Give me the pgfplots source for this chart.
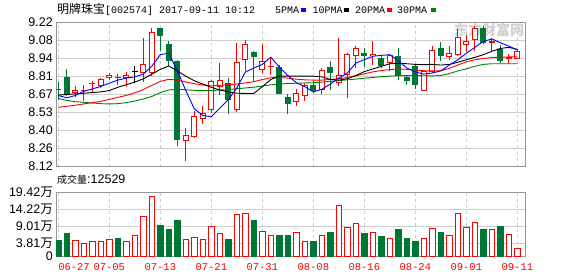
\documentclass[border=0pt]{standalone}
\usepackage{pgfplots}
\pgfplotsset{compat=1.18}
\usepackage{pgfplotstable}
\usepackage{fontspec}
\setmainfont{Liberation Sans}
\newfontfamily\cjk{Noto Sans CJK SC}
\newfontfamily\mono{Liberation Mono}
\definecolor{cred}{RGB}{255,0,0}
\definecolor{cgreen}{RGB}{0,118,52}
\definecolor{magreen}{RGB}{0,128,0}
\definecolor{gridc}{RGB}{206,206,206}
\definecolor{framec}{RGB}{150,150,150}

% red (up) candles
\pgfplotstableread{
i O H L C
2 8.681 8.732 8.651 8.702
3 8.695 8.742 8.620 8.705
4 8.748 8.773 8.680 8.760
5 8.737 8.793 8.718 8.786
6 8.797 8.832 8.780 8.817
8 8.795 8.845 8.725 8.821
10 8.833 9.100 8.769 8.903
11 8.834 9.178 8.809 9.146
15 8.312 8.414 8.160 8.358
16 8.343 8.541 8.340 8.503
17 8.483 8.580 8.445 8.529
18 8.554 8.783 8.529 8.770
19 8.725 8.910 8.669 8.783
21 8.554 9.063 8.536 8.916
22 8.936 9.089 8.847 9.056
24 8.860 9.058 8.834 8.928
25 8.882 8.949 8.821 8.886
28 8.610 8.715 8.580 8.681
29 8.656 8.758 8.623 8.740
31 8.707 8.872 8.674 8.860
33 8.758 9.102 8.732 8.821
34 8.821 8.987 8.643 8.982
35 8.962 9.038 8.872 9.025
37 8.962 9.076 8.898 8.979
39 8.911 8.979 8.847 8.974
43 8.699 8.860 8.694 8.847
44 8.839 9.038 8.834 9.007
46 8.954 9.038 8.936 8.987
47 8.969 9.173 8.962 9.107
48 9.051 9.127 8.995 9.076
49 9.089 9.190 9.000 9.178
51 9.063 9.102 9.000 9.076
53 8.941 8.979 8.903 8.954
54 8.944 9.020 8.944 9.000
}\upc

% green (down) candles
\pgfplotstableread{
i O H L C
0 8.710 8.765 8.630 8.703
1 8.800 8.867 8.662 8.674
7 8.801 8.825 8.745 8.795
12 9.178 9.180 9.000 9.114
13 9.058 9.076 8.885 8.923
14 8.928 8.930 8.274 8.325
20 8.758 8.796 8.524 8.630
23 8.995 9.000 8.770 8.954
26 8.877 8.898 8.674 8.674
27 8.651 8.674 8.524 8.597
30 8.740 8.770 8.681 8.699
32 8.880 8.923 8.707 8.834
36 8.987 9.025 8.877 8.967
38 8.949 8.962 8.872 8.885
40 8.962 9.025 8.783 8.809
41 8.801 8.821 8.745 8.770
42 8.885 8.898 8.715 8.745
45 9.025 9.071 8.923 8.962
50 9.178 9.190 9.056 9.063
52 9.020 9.051 8.910 8.928
}\dnc

% doji (black)
\pgfplotstableread{
i O H L C
9 8.842 8.884 8.757 8.842
}\djc

% moving averages
\pgfplotstableread{
i m5 m10 m20 m30
0 8.662 8.666 8.572 8.640
1 8.645 8.670 8.580 8.625
2 8.662 8.675 8.588 8.615
3 8.695 8.680 8.598 8.610
4 8.712 8.685 8.608 8.605
5 8.732 8.690 8.618 8.600
6 8.756 8.700 8.632 8.598
7 8.780 8.725 8.648 8.600
8 8.795 8.745 8.663 8.608
9 8.805 8.765 8.683 8.620
10 8.825 8.790 8.708 8.635
11 8.885 8.825 8.740 8.655
12 8.975 8.862 8.770 8.685
13 8.985 8.888 8.786 8.705
14 8.850 8.850 8.780 8.710
15 8.700 8.810 8.766 8.706
16 8.560 8.775 8.752 8.702
17 8.510 8.750 8.742 8.700
18 8.500 8.725 8.736 8.700
19 8.565 8.705 8.740 8.704
20 8.630 8.690 8.745 8.708
21 8.720 8.680 8.750 8.714
22 8.842 8.678 8.758 8.720
23 8.872 8.678 8.768 8.726
24 8.900 8.730 8.784 8.734
25 8.955 8.785 8.798 8.744
26 8.880 8.810 8.800 8.750
27 8.815 8.810 8.795 8.754
28 8.760 8.810 8.787 8.756
29 8.730 8.810 8.782 8.758
30 8.690 8.810 8.780 8.760
31 8.710 8.805 8.780 8.765
32 8.750 8.785 8.785 8.770
33 8.796 8.780 8.790 8.776
34 8.834 8.790 8.800 8.782
35 8.910 8.815 8.812 8.788
36 8.936 8.845 8.828 8.794
37 8.962 8.865 8.843 8.800
38 8.969 8.885 8.853 8.806
39 8.974 8.905 8.860 8.810
40 8.928 8.908 8.865 8.814
41 8.872 8.905 8.862 8.815
42 8.842 8.900 8.857 8.815
43 8.826 8.898 8.852 8.813
44 8.834 8.900 8.850 8.812
45 8.850 8.895 8.852 8.815
46 8.895 8.900 8.870 8.830
47 8.935 8.916 8.895 8.850
48 8.985 8.936 8.920 8.866
49 9.030 8.954 8.935 8.885
50 9.075 8.974 8.945 8.900
51 9.095 9.000 8.952 8.905
52 9.065 9.022 8.955 8.905
53 9.040 9.030 8.957 8.905
54 9.010 9.015 8.958 8.905
}\mas

% volume (10k shares), up days
\pgfplotstableread{
i v
2 4.7
3 3.9
4 4.5
5 4.5
6 5.1
8 4.5
9 6.3
10 12.2
11 18.4
15 5.1
16 5.7
17 5.1
18 9.1
19 6.95
21 12.8
22 13.1
24 7.6
25 6.3
28 7.3
29 4.3
31 6.3
33 15.6
34 8.8
35 10.1
37 7.3
39 5.4
43 5.4
44 8.5
46 6.3
47 13.1
48 8.8
49 10.3
51 8.2
53 6.6
54 2.35
}\volup

% volume, down days
\pgfplotstableread{
i v
0 4.9
1 6.75
7 5.4
12 9.5
13 8.0
14 11.0
20 5.2
23 11.0
26 6.4
27 6.4
30 4.6
32 7.2
36 6.8
38 6.1
40 8.0
41 5.5
42 4.4
45 7.2
50 8.0
52 9.2
}\voldn

\pgfplotsset{
  kpanel/.style={
    scale only axis, width=469pt,
    xmin=-0.27, xmax=54.9,
    axis line style={framec, line width=1pt},
    tick style={draw=none},
    xtick={0,6,...,54},
    xmajorgrids, ymajorgrids,
    x grid style={gridc, line width=0.8pt, dash pattern=on 3pt off 3pt},
    y grid style={gridc, line width=0.8pt},
    yticklabel style={font=\fontsize{12.5}{12.5}\selectfont, anchor=east, inner sep=0pt, xshift=-3pt},
  },
  wick/.style={draw=none, mark=none, forget plot,
    error bars/.cd, y dir=plus, y explicit, error mark=none,
    error bar style={draw=#1, line width=1pt}},
  body/.style={draw=none, mark=none, forget plot,
    error bars/.cd, y dir=plus, y explicit, error mark=none,
    error bar style={draw=#1, line width=6pt}},
  inner/.style={draw=none, mark=none, forget plot,
    error bars/.cd, y dir=plus, y explicit, error mark=none,
    error bar style={draw=white, line width=4pt}},
}

\begin{document}
\begin{tikzpicture}
\path[use as bounding box] (0,0) rectangle (578pt,276pt);

% watermark
\node[text=black!18, font=\cjk\bfseries\fontsize{14}{14}\selectfont, inner sep=0pt] at (489pt,246pt) {东方财富网};

% title and legend
\node[anchor=base west, inner sep=0pt] at (57pt,262pt)
  {{\cjk\fontsize{12}{12}\selectfont 明牌珠宝}{\mono\fontsize{10}{10}\selectfont[002574] 2017-09-11 10:12}};
\node[anchor=base west, inner sep=0pt] at (275pt,262pt)
  {\mono\fontsize{10}{10}\selectfont 5PMA\hspace{1.7pt}\textcolor{blue}{\rule[2.3pt]{5pt}{3.4pt}}\hspace{6.6pt}10PMA\hspace{1.7pt}\textcolor{black}{\rule[2.3pt]{5pt}{3.4pt}}\hspace{6pt}20PMA\hspace{2pt}\textcolor{cred}{\rule[2.3pt]{5pt}{3.4pt}}\hspace{5pt}30PMA\hspace{3.7pt}\textcolor{magreen}{\rule[2.3pt]{5pt}{3.4pt}}};
\node[anchor=base west, inner sep=0pt] at (57pt,92.5pt)
  {{\cjk\fontsize{10}{10}\selectfont 成交量}{\fontsize{12.5}{12.5}\selectfont :12529}};

% price panel
\begin{axis}[kpanel,
  at={(56pt,109.5pt)}, anchor=south west, height=144pt,
  ymin=8.12, ymax=9.22,
  xticklabels={},
  ytick={8.12,8.2575,8.395,8.5325,8.67,8.8075,8.945,9.0825,9.22},
  yticklabels={8.12,8.26,8.40,8.53,8.67,8.81,8.94,9.08,9.22},
  extra y ticks={8.67}, extra y tick labels={},
  extra y tick style={grid style={framec, line width=1pt, solid}},
]
% wicks
\addplot[wick=cred] table[x=i, y=L, y error plus expr={\thisrow{H}-\thisrow{L}}] {\upc};
\addplot[wick=cgreen] table[x=i, y=L, y error plus expr={\thisrow{H}-\thisrow{L}}] {\dnc};
\addplot[wick=black] table[x=i, y=L, y error plus expr={\thisrow{H}-\thisrow{L}}] {\djc};
% bodies
\addplot[body=cred] table[x=i, y expr={min(\thisrow{O},\thisrow{C})}, y error plus expr={max(abs(\thisrow{C}-\thisrow{O}),0.008)}] {\upc};
\addplot[inner] table[x=i, y expr={min(\thisrow{O},\thisrow{C})+0.0076}, y error plus expr={max(abs(\thisrow{C}-\thisrow{O})-0.0153,0)}] {\upc};
\addplot[body=cgreen] table[x=i, y expr={min(\thisrow{O},\thisrow{C})}, y error plus expr={max(abs(\thisrow{C}-\thisrow{O}),0.008)}] {\dnc};
\addplot[body=black] table[x=i, y expr={min(\thisrow{O},\thisrow{C})}, y error plus expr={max(abs(\thisrow{C}-\thisrow{O}),0.008)}] {\djc};
% moving averages
\addplot[magreen, line width=0.9pt, mark=none] table[x=i, y=m30] {\mas};
\addplot[cred, line width=0.9pt, mark=none] table[x=i, y=m20] {\mas};
\addplot[black, line width=0.9pt, mark=none] table[x=i, y=m10] {\mas};
\addplot[blue, line width=0.9pt, mark=none] table[x=i, y=m5] {\mas};
\end{axis}

% volume panel
\begin{axis}[kpanel,
  at={(56pt,20pt)}, anchor=south west, height=63.3pt,
  ymin=0, ymax=19.42,
  ytick={0,3.81,9.01,14.22,19.42},
  yticklabels={0,3.81{\cjk 万},9.01{\cjk 万},14.22{\cjk 万},19.42{\cjk 万}},
  xticklabels={{\makebox[0pt][l]{06-27}},07-05,07-13,07-21,07-31,08-08,08-16,08-24,09-01,09-11},
  xticklabel style={font=\mono\fontsize{10.5}{10.5}\selectfont, text=cred, anchor=north, inner sep=0pt, yshift=-7pt},
]
\addplot[ybar, bar width=5.5pt, bar shift=0pt, draw=cred, fill=white, line width=1pt] table[x=i, y=v] {\volup};
\addplot[ybar, bar width=5.5pt, bar shift=0pt, draw=cgreen, fill=cgreen, line width=1pt] table[x=i, y=v] {\voldn};
\end{axis}
\end{tikzpicture}
\end{document}
